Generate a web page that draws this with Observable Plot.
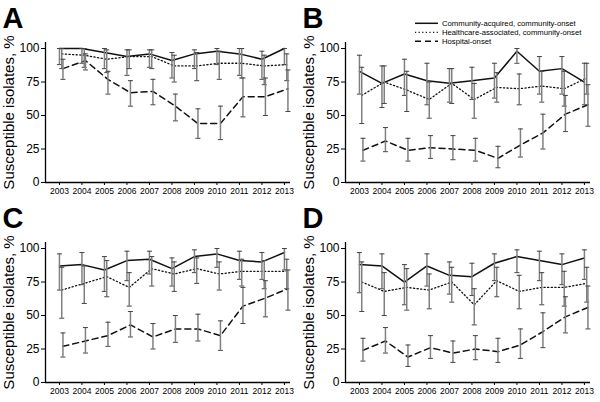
<!DOCTYPE html>
<html><head><meta charset="utf-8">
<script src="https://cdn.jsdelivr.net/npm/d3@7"></script>
<script src="https://cdn.jsdelivr.net/npm/@observablehq/plot@0.6"></script>
<style>
body{margin:0;background:#fff;}
#fig{position:relative;width:600px;height:402px;background:#fff;font-family:"Liberation Sans",Arial,sans-serif;}
.panel{position:absolute;width:300px;height:200px;}
#legend{position:absolute;left:0;top:0;pointer-events:none;}
</style></head><body><div id="fig"></div>
<script>
const years = [2003, 2004, 2005, 2006, 2007, 2008, 2009, 2010, 2011, 2012, 2013];
const seriesNames = ["Community-acquired, community-onset", "Healthcare-associated, community-onset", "Hospital-onset"];
const panelLetters = ["A", "B", "C", "D"];
const yTicks = [0, 25, 50, 75, 100];
const yLabel = "Susceptible isolates, %";

// each entry: [percent susceptible, lower CI, upper CI]
const aCA  = [[100,88,100],[100,89,100],[97,85,100],[94,80,99],[96,86,99],[91,78,97],[96,85,99],[98,88,100],[96,80,100],[92,77,98],[100,88,100]];
const aHCA = [[96,85,100],[95,86,100],[92,82,99],[94,85,99],[94,85,99],[87,75,95],[87,76,97],[89,77,98],[89,78,100],[87,73,95],[88,76,96]];
const aHO  = [[85,77,92],[91,84,96],[77,66,83],[67,57,76],[68,58,77],[57,46,66],[44,33,55],[44,32,57],[64,49,78],[64,50,78],[70,53,84]];

const bCA  = [[83,66,95],[74,56,87],[81,65,92],[76,58,89],[74,60,85],[76,62,86],[78,63,89],[98,89,100],[83,66,94],[85,66,94],[75,58,89]];
const bHCA = [[65,44,86],[75,59,87],[69,53,83],[62,48,75],[74,59,85],[62,48,74],[71,60,82],[70,58,81],[72,60,83],[70,57,83],[78,66,89]];
const bHO  = [[24,16,33],[31,23,41],[24,16,33],[26,18,35],[25,17,35],[24,16,33],[18,11,27],[28,19,40],[37,25,51],[51,38,65],[58,42,73]];

const cCA  = [[87,69,96],[88,73,97],[84,68,94],[91,76,98],[92,81,98],[85,72,93],[94,82,99],[96,86,100],[91,77,98],[90,77,97],[97,84,100]];
const cHCA = [[69,48,86],[74,59,87],[79,64,91],[71,57,82],[85,72,94],[81,68,90],[85,74,93],[81,69,90],[83,72,92],[83,70,91],[83,70,92]];
const cHO  = [[27,19,37],[31,22,41],[35,27,45],[43,34,53],[34,25,44],[40,30,50],[40,31,51],[35,24,46],[57,44,71],[63,49,76],[70,54,84]];

const dCA  = [[88,67,97],[87,70,96],[75,58,88],[87,72,96],[80,66,90],[79,65,89],[89,76,96],[94,82,99],[91,76,98],[88,73,96],[93,77,99]];
const dHCA = [[75,53,90],[68,50,82],[71,54,85],[69,55,81],[75,60,86],[58,43,70],[76,64,86],[68,55,80],[71,58,82],[71,57,83],[74,60,86]];
const dHO  = [[24,16,33],[31,22,41],[19,12,28],[26,18,35],[22,15,31],[25,17,35],[23,15,33],[28,18,40],[38,26,52],[49,37,64],[56,40,72]];

const panels = [[aCA, aHCA, aHO], [bCA, bHCA, bHO], [cCA, cHCA, cHO], [dCA, dHCA, dHO]];

// styles (separate from data)
const lineStyles = [
  {dash: null, width: 1.5, dx: 0},
  {dash: "1.2,2.4", width: 1.3, dx: 2.3},
  {dash: "6,4", width: 1.5, dx: 3.5}
];
const fontFamily = '"Liberation Sans", Arial, sans-serif';
const capSymbol = {draw(ctx) { ctx.moveTo(-2.5, 0); ctx.lineTo(2.5, 0); }};
const xDomain = [2002.38, 2013.27];
const yDomain = [0, 104.5];

const fig = document.getElementById("fig");

panels.forEach((panel, pi) => {
  const marks = [];
  panel.forEach((arr, si) => {
    const rows = arr.map((d, i) => ({year: years[i], v: d[0], lo: d[1], hi: d[2]}));
    const st = lineStyles[si];
    marks.push(Plot.line(rows, {x: "year", y: "v", dx: st.dx, stroke: "#111", strokeWidth: st.width, strokeDasharray: st.dash}));
  });
  panel.forEach((arr, si) => {
    const rows = arr.map((d, i) => ({year: years[i], v: d[0], lo: d[1], hi: d[2]}));
    const st = lineStyles[si];
    marks.push(Plot.ruleX(rows, {x: "year", y1: "lo", y2: "hi", dx: st.dx, stroke: "#808080", strokeWidth: 1.5}));
    marks.push(Plot.dot(rows, {x: "year", y: "lo", dx: st.dx, symbol: capSymbol, r: 2, fill: "none", stroke: "#444", strokeWidth: 1}));
    marks.push(Plot.dot(rows, {x: "year", y: "hi", dx: st.dx, symbol: capSymbol, r: 2, fill: "none", stroke: "#444", strokeWidth: 1}));
  });
  marks.push(Plot.ruleX([xDomain[0]], {stroke: "#000", strokeWidth: 1.3}));
  marks.push(Plot.ruleY([0], {stroke: "#000", strokeWidth: 1.3}));
  marks.push(Plot.axisY({ticks: yTicks, tickSize: 4, tickPadding: 2, fontSize: 12, label: null, stroke: "#000"}));
  marks.push(Plot.axisX({ticks: years, tickFormat: d => String(d), tickSize: 3, tickPadding: 2, fontSize: 8.5, label: null}));
  marks.push(Plot.text([yLabel], {frameAnchor: "left", rotate: -90, dx: -42, textAnchor: "middle", lineAnchor: "top", fontSize: 15, fill: "#000"}));
  marks.push(Plot.text([panelLetters[pi]], {frameAnchor: "top-left", dx: -43, dy: -15, textAnchor: "start", lineAnchor: "bottom", fontSize: 29, fontWeight: "bold", fontFamily: '"Liberation Sans Narrow", "Liberation Sans", Arial, sans-serif', fill: "#000"}));

  const chart = Plot.plot({
    width: 300, height: 200,
    marginLeft: 45, marginRight: 10, marginTop: 42, marginBottom: 18,
    x: {type: "linear", domain: xDomain},
    y: {domain: yDomain},
    style: {fontFamily, color: "#000", background: "transparent", overflow: "visible"},
    marks
  });
  const div = document.createElement("div");
  div.className = "panel";
  div.style.left = (pi % 2) * 300 + "px";
  div.style.top = Math.floor(pi / 2) * 200 + "px";
  div.appendChild(chart);
  fig.appendChild(div);
});

// legend (in panel B)
const legend = d3.select(fig).append("svg").attr("id", "legend").attr("width", 600).attr("height", 402)
  .style("font-family", fontFamily);
seriesNames.forEach((name, i) => {
  const st = lineStyles[i];
  const y = 23.3 + i * 9;
  legend.append("line").attr("x1", 415).attr("x2", 438).attr("y1", y).attr("y2", y)
    .attr("stroke", "#111").attr("stroke-width", st.width).attr("stroke-dasharray", st.dash);
  legend.append("text").attr("x", 442).attr("y", y).attr("dy", "0.35em")
    .attr("font-size", 7.7).attr("fill", "#000").text(name);
});
</script>
</body></html>
